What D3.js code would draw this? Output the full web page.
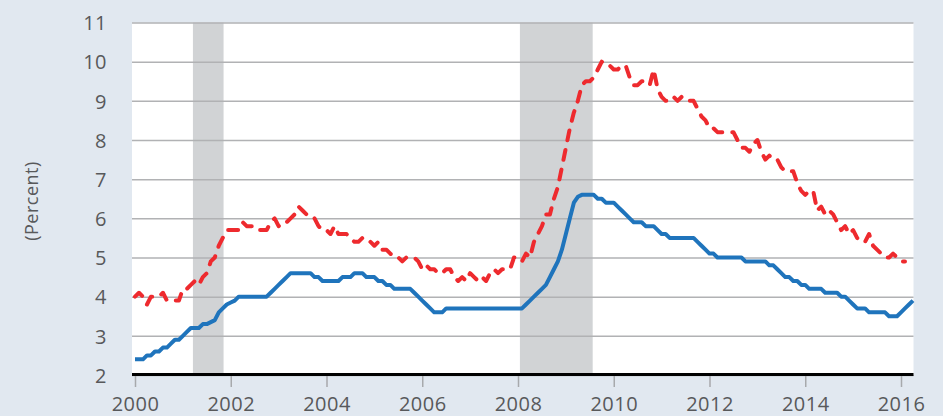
<!DOCTYPE html>
<html>
<head>
<meta charset="utf-8">
<script src="https://cdn.jsdelivr.net/npm/d3@7"></script>
<style>
  html, body { margin: 0; padding: 0; background: #e1e8f0; }
  svg { display: block; }
  .tick text { font-family: "Open Sans", sans-serif; font-size: 20px; font-weight: 500; fill: #58595b; letter-spacing: 0.5px; }
</style>
</head>
<body>
<script>
// decimal years, first month = Jan 2000
var startYear = 2000;

// red dashed series (monthly, Jan 2000 - Feb 2016)
var redSeries = [
  4.0,4.1,4.0,3.8,4.0,4.0,4.0,4.1,3.9,3.9,3.9,3.9,
  4.2,4.2,4.3,4.4,4.3,4.5,4.6,4.9,5.0,5.3,5.5,5.7,
  5.7,5.7,5.7,5.9,5.8,5.8,5.8,5.7,5.7,5.7,5.9,6.0,
  5.8,5.9,5.9,6.0,6.1,6.3,6.2,6.1,6.1,6.0,5.8,5.7,
  5.7,5.6,5.8,5.6,5.6,5.6,5.5,5.4,5.4,5.5,5.4,5.4,
  5.3,5.4,5.2,5.2,5.1,5.0,5.0,4.9,5.0,5.0,5.0,4.9,
  4.7,4.8,4.7,4.7,4.6,4.6,4.7,4.7,4.5,4.4,4.5,4.4,
  4.6,4.5,4.4,4.5,4.4,4.6,4.7,4.6,4.7,4.7,4.7,5.0,
  5.0,4.9,5.1,5.0,5.4,5.6,5.8,6.1,6.1,6.5,6.8,7.3,
  7.8,8.3,8.7,9.0,9.4,9.5,9.5,9.6,9.8,10.0,9.9,9.9,
  9.8,9.8,9.9,9.9,9.6,9.4,9.4,9.5,9.5,9.4,9.8,9.3,
  9.1,9.0,9.0,9.1,9.0,9.1,9.0,9.0,9.0,8.8,8.6,8.5,
  8.3,8.3,8.2,8.2,8.2,8.2,8.2,8.0,7.8,7.8,7.7,7.9,
  8.0,7.7,7.5,7.6,7.5,7.5,7.3,7.2,7.2,7.2,6.9,6.7,
  6.6,6.7,6.7,6.2,6.3,6.1,6.2,6.1,5.9,5.7,5.8,5.6,
  5.7,5.5,5.4,5.4,5.6,5.3,5.2,5.1,5.0,5.0,5.1,5.0,
  4.9,4.9
];

// blue solid series (monthly, Jan 2000 - Apr 2016)
var blueSeries = [
  2.4,2.4,2.4,2.5,2.5,2.6,2.6,2.7,2.7,2.8,2.9,2.9,
  3.0,3.1,3.2,3.2,3.2,3.3,3.3,3.35,3.4,3.6,3.7,3.8,
  3.85,3.9,4.0,4.0,4.0,4.0,4.0,4.0,4.0,4.0,4.1,4.2,
  4.3,4.4,4.5,4.6,4.6,4.6,4.6,4.6,4.6,4.5,4.5,4.4,
  4.4,4.4,4.4,4.4,4.5,4.5,4.5,4.6,4.6,4.6,4.5,4.5,
  4.5,4.4,4.4,4.3,4.3,4.2,4.2,4.2,4.2,4.2,4.1,4.0,
  3.9,3.8,3.7,3.6,3.6,3.6,3.7,3.7,3.7,3.7,3.7,3.7,
  3.7,3.7,3.7,3.7,3.7,3.7,3.7,3.7,3.7,3.7,3.7,3.7,
  3.7,3.7,3.8,3.9,4.0,4.1,4.2,4.3,4.5,4.7,4.9,5.2,
  5.6,6.0,6.4,6.55,6.6,6.6,6.6,6.6,6.5,6.5,6.4,6.4,
  6.4,6.3,6.2,6.1,6.0,5.9,5.9,5.9,5.8,5.8,5.8,5.7,
  5.6,5.6,5.5,5.5,5.5,5.5,5.5,5.5,5.5,5.4,5.3,5.2,
  5.1,5.1,5.0,5.0,5.0,5.0,5.0,5.0,5.0,4.9,4.9,4.9,
  4.9,4.9,4.9,4.8,4.8,4.7,4.6,4.5,4.5,4.4,4.4,4.3,
  4.3,4.2,4.2,4.2,4.2,4.1,4.1,4.1,4.1,4.0,4.0,3.9,
  3.8,3.7,3.7,3.7,3.6,3.6,3.6,3.6,3.6,3.5,3.5,3.5,
  3.6,3.7,3.8,3.9
];

// shaded periods
var recessionStart = [2001.21, 2008.04];
var recessionEnd   = [2001.85, 2009.56];

var xTicks = [2000, 2002, 2004, 2006, 2008, 2010, 2012, 2014, 2016];
var yTicks = [2, 3, 4, 5, 6, 7, 8, 9, 10, 11];

var width = 943, height = 416;
var plotLeft = 132, plotRight = 913.5, plotTop = 22.5, plotBottom = 375;

var x = d3.scaleLinear().domain([2000, 2016]).range([135, 901]);
var y = d3.scaleLinear().domain([2, 11]).range([plotBottom, plotTop]);

var toPoints = function(arr) {
  return arr.map(function(v, i) { return {t: startYear + i / 12, v: v}; });
};

var svg = d3.select("body").append("svg")
    .attr("width", width)
    .attr("height", height);

// white plot area
svg.append("rect")
    .attr("x", plotLeft)
    .attr("y", plotTop)
    .attr("width", plotRight - plotLeft)
    .attr("height", plotBottom - plotTop)
    .attr("fill", "#ffffff");

// recession bars
svg.append("g").selectAll("rect")
  .data(recessionStart)
  .enter().append("rect")
    .attr("x", function(d) { return x(d); })
    .attr("y", plotTop)
    .attr("width", function(d, i) { return x(recessionEnd[i]) - x(d); })
    .attr("height", plotBottom - plotTop)
    .attr("fill", "#d1d3d5");

// y axis + gridlines
var yAxis = svg.append("g")
    .attr("transform", "translate(" + plotLeft + ",0)")
    .call(d3.axisLeft(y)
      .tickValues(yTicks)
      .tickSize(-(plotRight - plotLeft))
      .tickPadding(25)
      .tickFormat(d3.format("d")));
yAxis.select(".domain").remove();
yAxis.selectAll(".tick line")
    .attr("stroke", "#b1b2b4")
    .attr("stroke-width", 1.5);
yAxis.selectAll(".tick text").attr("dy", "0.36em");

// x axis
var xAxis = svg.append("g")
    .attr("transform", "translate(0," + plotBottom + ")")
    .call(d3.axisBottom(x)
      .tickValues(xTicks)
      .tickSize(12)
      .tickPadding(10)
      .tickFormat(d3.format("d")));
xAxis.select(".domain").remove();
xAxis.selectAll(".tick line")
    .attr("stroke", "#a7a9ac")
    .attr("stroke-width", 1.5);

// black baseline
svg.append("line")
    .attr("x1", plotLeft)
    .attr("x2", plotRight)
    .attr("y1", plotBottom - 0.5)
    .attr("y2", plotBottom - 0.5)
    .attr("stroke", "#000")
    .attr("stroke-width", 3);

var line = d3.line()
    .x(function(d) { return x(d.t); })
    .y(function(d) { return y(d.v); });

svg.append("path")
    .datum(toPoints(blueSeries))
    .attr("d", line)
    .attr("fill", "none")
    .attr("stroke", "#1f74bc")
    .attr("stroke-width", 4)
    .attr("stroke-linejoin", "round");

svg.append("path")
    .datum(toPoints(redSeries))
    .attr("d", line)
    .attr("fill", "none")
    .attr("stroke", "#ee2a2e")
    .attr("stroke-width", 4)
    .attr("stroke-linecap", "round")
    .attr("stroke-linejoin", "round")
    .attr("stroke-dasharray", "10,10");

// y label
svg.append("text")
    .attr("transform", "translate(38,201) rotate(-90)")
    .attr("text-anchor", "middle")
    .attr("font-family", "Open Sans, sans-serif")
    .attr("font-size", 18)
    .attr("font-weight", 500)
    .attr("letter-spacing", "0.5px")
    .attr("fill", "#58595b")
    .text("(Percent)");
</script>
</body>
</html>
